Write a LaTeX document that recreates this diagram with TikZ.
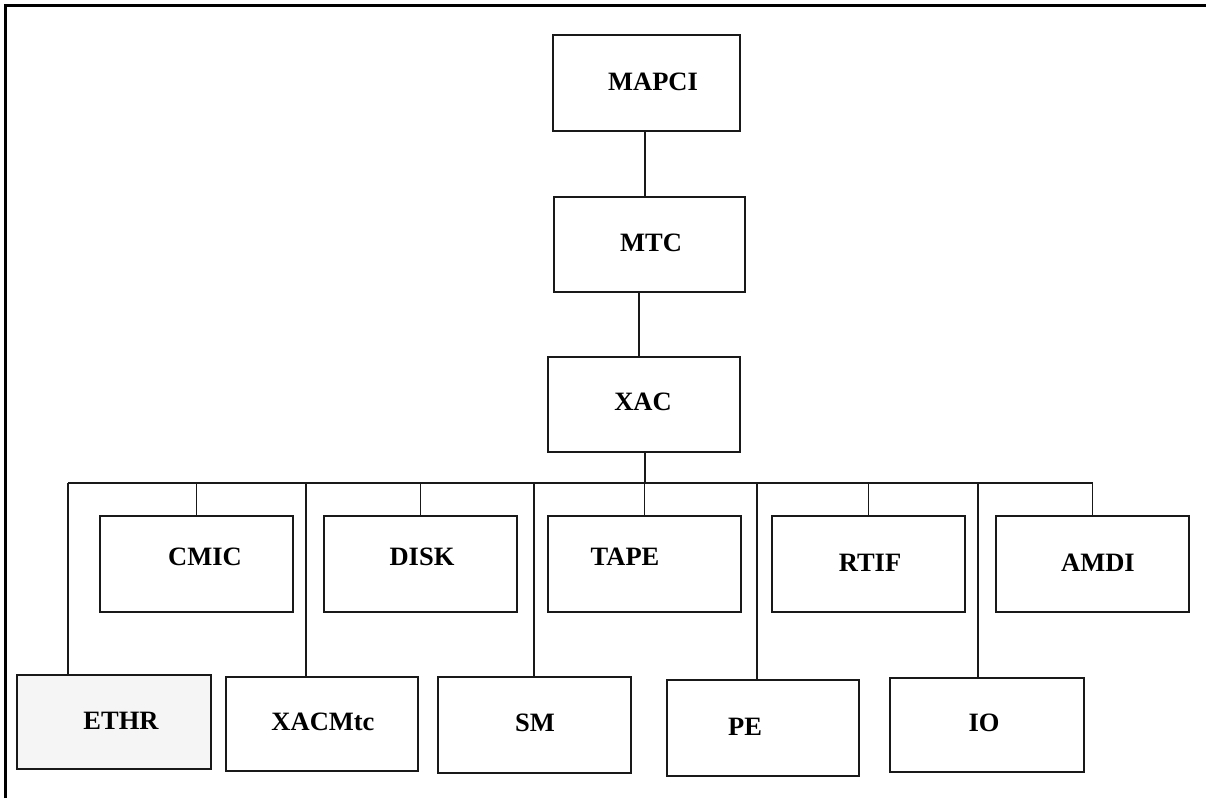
\documentclass[tikz,border=0pt]{standalone}
\usepackage{fontspec}
\setmainfont{Liberation Serif}
\usetikzlibrary{calc}
\begin{document}
\begin{tikzpicture}[x=1pt,y=-1pt,
  box/.style={draw=black!90, line width=1.8pt, fill=white, minimum width=193pt, minimum height=95pt, inner sep=0pt},
  grey/.style={fill=black!4},
  lbl/.style={font=\fontsize{26.5}{30}\selectfont\bfseries, inner sep=0pt},
  wire/.style={line width=1.8pt, draw=black!90}]
\useasboundingbox (0,0) rectangle (1206,798);
% frame (top and left edges)
\draw[line width=3pt] (5,798) -- (5,5) -- (1206,5);

% upper chain
\node[box, minimum width=187pt, minimum height=96pt] (mapci) at (646.5,83) {};
\node[box, minimum width=191pt] (mtc) at (649.5,244.5) {};
\node[box, minimum width=192pt] (xac) at (644,404.5) {};

% middle row
\node[box, minimum height=96pt] (cmic) at (196.5,564) {};
\node[box, minimum height=96pt] (disk) at (420.5,564) {};
\node[box, minimum height=96pt] (tape) at (644.5,564) {};
\node[box, minimum height=96pt] (rtif) at (868.5,564) {};
\node[box, minimum height=96pt] (amdi) at (1092.5,564) {};

% bottom row
\node[box, grey, minimum width=194pt, minimum height=94pt] (ethr) at (114,722) {};
\node[box, minimum width=192pt, minimum height=94pt] (xacmtc) at (322,724) {};
\node[box, minimum height=96pt] (sm) at (534.5,725) {};
\node[box, minimum width=192pt, minimum height=96pt] (pe) at (763,728) {};
\node[box, minimum width=194pt, minimum height=94pt] (io) at (987,725) {};

% labels
\node[lbl] (tmapci) at (653,82) {MAPCI};
\node[lbl] (tmtc) at (651,243) {MTC};
\node[lbl] (txac) at (643,402) {XAC};
\node[lbl] (tcmic) at (205,557) {CMIC};
\node[lbl] (tdisk) at (422,557) {DISK};
\node[lbl] (ttape) at (625,557) {TAPE};
\node[lbl] (trtif) at (870,563) {RTIF};
\node[lbl] (tamdi) at (1098,563) {AMDI};
\node[lbl] (tethr) at (121,721) {ETHR};
\node[lbl] (txacmtc) at (323,722) {XACMtc};
\node[lbl] (tsm) at (535,723) {SM};
\node[lbl] (tpe) at (745,727) {PE};
\node[lbl] (tio) at (984,723) {IO};

% reference points for the wiring
\coordinate (c1) at (645,0);
\coordinate (c2) at (639,0);
\coordinate (bus) at (0,483);
\coordinate (d1) at (68,0);
\coordinate (d2) at (306,0);
\coordinate (d3) at (534,0);
\coordinate (d4) at (757,0);
\coordinate (d5) at (978,0);

% vertical chain
\draw[wire] (mapci.south -| c1) -- (mtc.north -| c1);
\draw[wire] (mtc.south -| c2) -- (xac.north -| c2);
\draw[wire] (xac.south -| c1) -- (bus -| c1);

% horizontal bus
\draw[wire] (bus -| d1) -- (bus -| amdi.north);

% drops to the middle row
\foreach \n in {cmic,disk,tape,rtif,amdi}
  \draw[wire] (bus -| \n.north) -- (\n.north);

% drops to the bottom row
\draw[wire] (bus -| d1) -- (ethr.north -| d1);
\draw[wire] (bus -| d2) -- (xacmtc.north -| d2);
\draw[wire] (bus -| d3) -- (sm.north -| d3);
\draw[wire] (bus -| d4) -- (pe.north -| d4);
\draw[wire] (bus -| d5) -- (io.north -| d5);
\end{tikzpicture}
\end{document}
